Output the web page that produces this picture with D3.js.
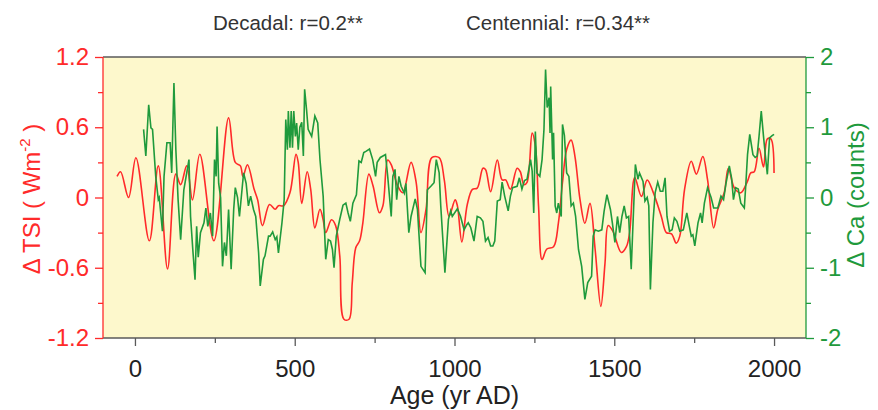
<!DOCTYPE html>
<html><head><meta charset="utf-8">
<script src="https://cdn.jsdelivr.net/npm/d3@7/dist/d3.min.js"></script>
<style>body{margin:0;background:#fff}svg{display:block}text{font-family:"Liberation Sans",Arial,sans-serif}</style>
</head><body><svg id="c" width="878" height="410"></svg>
<script>
// TSI (red) series: years and values (W m^-2)
const tsiYears = [-56,-45,-20,3,45,73,102,128,143,162,180,203,247,293,314,330,338,352,373,384,399,421,439,449,465,485,504,511,522,539,550,563,579,589,597,615,628,641,654,670,680,691,703,713,732,745,765,776,791,802,822,838,864,880,895,911,929,952,968,983,1002,1009,1023,1040,1056,1071,1089,1097,1113,1134,1149,1160,1175,1196,1206,1217,1227,1243,1253,1263,1274,1289,1310,1325,1338,1351,1365,1377,1393,1408,1424,1440,1458,1471,1481,1496,1522,1538,1548,1564,1585,1603,1621,1647,1663,1679,1694,1705,1720,1741,1757,1777,1792,1811,1824,1844,1857,1876,1896,1917,1927,1938,1953,1967,1979,1990,2000];
const tsiValues = [0.18,0.22,0.0,0.34,-0.37,0.27,-0.61,0.2,0.11,0.27,-0.02,0.37,-0.37,0.68,0.3,0.27,0.18,0.28,0.07,-0.02,-0.24,-0.06,-0.1,-0.07,-0.07,0.04,0.37,0.3,-0.05,0.22,0.07,-0.26,-0.1,-0.19,-0.3,-0.19,-0.24,-0.5,-1.04,-1.04,-0.73,-0.43,-0.37,-0.22,0.2,0.1,-0.13,-0.07,0.32,0.28,0.1,0.04,0.3,0.13,-0.3,-0.1,0.34,0.34,0.15,-0.16,-0.02,-0.07,-0.38,-0.06,0.07,0.08,0.25,0.24,0.05,0.32,0.15,0.15,0.07,0.25,0.22,0.11,0.13,0.55,0.44,-0.07,-0.53,-0.44,-0.42,-0.22,0.13,0.41,0.49,0.35,-0.02,-0.22,-0.05,-0.44,-0.93,-0.56,-0.24,-0.29,-0.47,-0.42,-0.3,0.17,0.01,0.15,0.05,-0.16,-0.3,-0.31,-0.39,-0.33,0.07,0.31,0.2,0.35,0.15,-0.26,-0.1,0.04,0.25,0.08,0.04,0.14,0.21,0.22,0.42,0.26,0.5,0.5,0.21];

// Ca (green) series: years and values (counts)
const caYears = [27,34,43,50,55,65,73,76,86,91,100,110,115,122,128,135,143,153,162,169,174,181,188,193,198,205,216,222,228,236,243,249,254,257,262,268,274,280,286,293,301,309,314,321,327,335,340,348,355,362,371,378,387,392,402,407,418,423,431,439,444,449,460,467,472,477,480,485,489,493,497,502,506,511,516,522,527,531,537,542,553,563,572,579,589,597,605,612,618,623,630,641,651,660,667,674,682,693,701,708,716,724,734,744,753,758,768,784,791,802,807,814,819,826,833,843,848,857,864,877,884,895,908,915,926,936,943,952,957,970,981,988,993,1009,1019,1030,1038,1043,1051,1061,1071,1081,1089,1097,1105,1113,1120,1126,1134,1143,1149,1157,1168,1175,1182,1196,1203,1211,1219,1227,1238,1243,1248,1253,1258,1267,1274,1280,1285,1290,1296,1299,1301,1307,1310,1315,1320,1325,1334,1338,1344,1351,1358,1365,1372,1379,1388,1398,1408,1417,1429,1434,1440,1450,1461,1468,1477,1488,1494,1502,1510,1517,1524,1531,1538,1545,1553,1566,1574,1579,1590,1596,1603,1608,1613,1621,1628,1636,1644,1652,1659,1665,1673,1681,1688,1696,1705,1716,1727,1734,1741,1746,1752,1762,1770,1775,1782,1792,1803,1811,1824,1834,1842,1850,1860,1867,1873,1880,1888,1896,1907,1912,1917,1924,1934,1941,1947,1953,1960,1967,1973,1979,1986,1994,2000];
const caValues = [0.97,0.59,1.32,0.99,0.97,0.3,-0.03,0.0,-0.48,0.3,0.78,0.78,0.35,1.63,0.68,-0.03,-0.6,0.11,0.35,0.54,-0.27,-0.74,-1.17,-0.41,-0.85,-0.5,-0.36,-0.15,-0.41,-0.22,-0.55,0.54,0.3,1.01,0.2,0.0,-0.98,-0.64,-0.83,-0.17,-1.02,-0.17,0.14,0.0,-0.27,0.11,0.35,0.2,-0.12,0.02,-0.17,-0.27,-0.79,-1.26,-0.88,-0.83,-0.55,-0.55,-0.49,-0.6,-0.56,-0.79,-0.36,-0.03,1.11,0.68,1.23,0.71,1.23,0.71,1.23,0.87,1.06,0.68,1.0,1.07,0.59,1.54,1.25,0.97,0.87,1.16,1.06,0.54,0.02,-0.88,-0.6,-0.62,-0.74,-1.0,-0.55,-0.31,-0.11,-0.08,-0.22,-0.34,-0.08,0.04,0.52,0.5,0.64,0.66,0.69,0.54,0.3,0.5,0.57,0.61,0.3,-0.27,0.3,0.4,-0.03,0.3,0.16,0.06,0.2,-0.5,-0.27,-0.02,-0.17,-0.98,-1.07,0.11,0.16,0.21,0.54,0.35,-0.12,-1.07,-0.31,-0.19,-0.27,-0.16,-0.27,-0.46,-0.39,-0.36,-0.43,-0.62,-0.27,-0.29,-0.34,-0.62,-0.57,-0.69,-0.69,-0.62,-0.05,-0.03,0.22,0.02,-0.19,0.02,0.14,0.16,0.28,0.12,0.24,0.26,0.54,0.38,-0.22,0.94,0.35,0.3,0.54,0.97,1.82,1.28,1.42,0.92,1.58,0.54,0.92,-0.12,-0.22,-0.08,-0.27,1.04,0.88,0.35,0.3,-0.12,-0.08,-0.27,-0.74,-0.98,-1.45,-1.21,-1.12,-0.55,-0.46,-0.48,-0.46,-0.2,0.04,-0.17,-0.36,-0.64,-0.27,-0.5,-0.27,-0.12,-0.29,-0.27,-1.02,0.47,0.26,0.35,0.23,-0.05,0.0,-0.12,-1.31,-0.36,0.07,0.22,0.09,0.09,0.28,-0.27,-0.48,-0.46,-0.29,-0.34,-0.48,-0.46,-0.22,-0.39,-0.55,-0.53,-0.69,-0.36,-0.22,-0.36,-0.08,0.14,0.0,-0.15,-0.15,0.02,-0.03,0.21,0.45,0.28,-0.03,0.14,0.12,-0.08,-0.15,0.21,0.61,0.9,0.61,0.57,0.59,0.87,1.23,0.87,0.59,0.33,0.85,0.88,0.9];

const xTicks = [0,500,1000,1500,2000];
const xMinorTicks = [250,750,1250,1750];
const tsiTicks = [-1.2,-0.6,0,0.6,1.2];
const tsiMinor = [-0.9,-0.3,0.3,0.9];
const caTicks = [-2,-1,0,1,2];
const caMinor = [-1.5,-0.5,0.5,1.5];
const titleLeft = "Decadal: r=0.2**";
const titleRight = "Centennial: r=0.34**";

const W=878,H=410;
const m={l:103,r:72,t:57,b:72};
const iw=W-m.l-m.r, ih=H-m.t-m.b;
const RED="#ff2a2a", GREEN="#1f9a3c", AXG="#5a5a5a";
const FONT='"Liberation Sans",Arial,sans-serif';
const svg=d3.select("#c");
const g=svg.append("g").attr("transform",`translate(${m.l},${m.t})`);

const x=d3.scaleLinear().domain([-100,2100]).range([0,iw]);
const yL=d3.scaleLinear().domain([-1.2,1.2]).range([ih,0]);
const yR=d3.scaleLinear().domain([-2,2]).range([ih,0]);

g.append("rect").attr("width",iw).attr("height",ih).attr("fill","#fdf8cc");

// lines
const tsi=tsiYears.map((d,i)=>[d,tsiValues[i]]);
const ca=caYears.map((d,i)=>[d,caValues[i]]);
g.append("path").datum(tsi).attr("fill","none").attr("stroke",RED).attr("stroke-width",1.6)
 .attr("d",d3.line().x(d=>x(d[0])).y(d=>yL(d[1])).curve(d3.curveCatmullRom.alpha(0.5)));
g.append("path").datum(ca).attr("fill","none").attr("stroke",GREEN).attr("stroke-width",1.6)
 .attr("d",d3.line().x(d=>x(d[0])).y(d=>yR(d[1])));

// top border
g.append("line").attr("x1",0).attr("x2",iw).attr("y1",0).attr("y2",0).attr("stroke",AXG).attr("stroke-width",1.5);

const fs="24px";
const hy = s => s.replace("\u2212","-");
// bottom axis
const bx=g.append("g").attr("transform",`translate(0,${ih})`);
bx.call(d3.axisBottom(x).tickValues(xTicks).tickSize(8).tickPadding(14).tickFormat(d3.format("d")));
bx.append("g").call(d3.axisBottom(x).tickValues(xMinorTicks).tickSize(5).tickFormat(""));
bx.selectAll("path.domain").remove();
bx.append("line").attr("x1",0).attr("x2",iw).attr("stroke",AXG).attr("stroke-width",1.5);
bx.selectAll("line").attr("stroke",AXG).attr("stroke-width",1.3);
bx.selectAll("text").attr("fill","#222").style("font-size",fs).style("font-family",FONT);

// left axis
const lx=g.append("g");
lx.call(d3.axisLeft(yL).tickValues(tsiTicks).tickSize(8).tickPadding(6).tickFormat(d=>d===0?"0":hy(d3.format(".1f")(d))));
lx.append("g").call(d3.axisLeft(yL).tickValues(tsiMinor).tickSize(5).tickFormat(""));
lx.selectAll("path.domain").remove();
lx.append("line").attr("y1",0).attr("y2",ih);
lx.selectAll("line").attr("stroke",RED).attr("stroke-width",1.3);
lx.selectAll("text").attr("fill",RED).style("font-size",fs).style("font-family",FONT);

// right axis
const rx=g.append("g").attr("transform",`translate(${iw},0)`);
rx.call(d3.axisRight(yR).tickValues(caTicks).tickSize(8).tickPadding(6).tickFormat(d=>hy(d3.format("d")(d))));
rx.append("g").call(d3.axisRight(yR).tickValues(caMinor).tickSize(5).tickFormat(""));
rx.selectAll("path.domain").remove();
rx.append("line").attr("y1",0).attr("y2",ih);
rx.selectAll("line").attr("stroke",GREEN).attr("stroke-width",1.3);
rx.selectAll("text").attr("fill",GREEN).style("font-size",fs).style("font-family",FONT);

// titles
svg.append("text").attr("x",213).attr("y",30).attr("fill","#333").style("font-size","20.5px").text(titleLeft);
svg.append("text").attr("x",466).attr("y",30).attr("fill","#333").style("font-size","20.5px").text(titleRight);

svg.append("text").attr("x",m.l+x(1000)).attr("y",404).attr("text-anchor","middle").attr("fill","#222").style("font-size","25px").text("Age (yr AD)");

const yl=svg.append("text").attr("transform",`translate(40,199) rotate(-90)`).attr("text-anchor","middle").attr("fill",RED).style("font-size","24px");
yl.append("tspan").text("\u0394 TSI ( Wm");
yl.append("tspan").attr("dy",-10).style("font-size","15px").text("-2");
yl.append("tspan").attr("dy",10).text(" )");

svg.append("text").attr("transform",`translate(864,195) rotate(-90)`).attr("text-anchor","middle").attr("fill",GREEN).style("font-size","24px").text("\u0394 Ca (counts)");
</script></body></html>
